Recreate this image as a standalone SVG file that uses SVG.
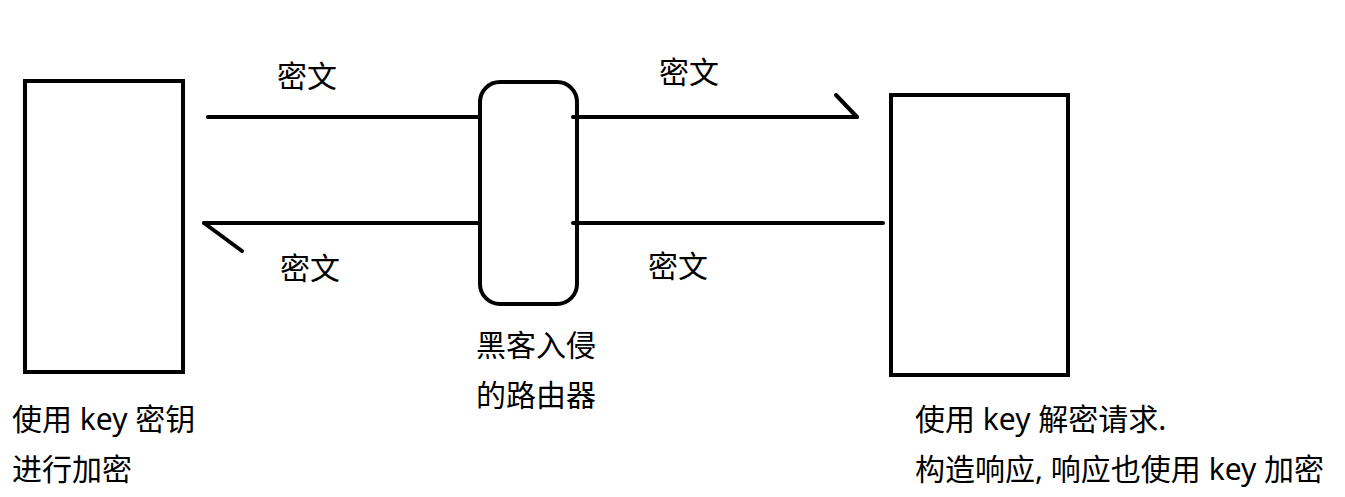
<svg xmlns="http://www.w3.org/2000/svg" width="1345" height="497" viewBox="0 0 1345 497">
<style>
.box{fill:none;stroke:#000;stroke-width:4}
.ln{fill:none;stroke:#000;stroke-width:4;stroke-linecap:round}
text{font-family:"Noto Sans","Noto Sans CJK SC",sans-serif;font-size:30px;fill:#000}
</style>
<rect width="1345" height="497" fill="#fff"/>
<g id="client">
<rect class="box" x="25" y="81" width="158" height="291"/>
<text x="12" y="430">使用 key 密钥</text>
<text x="12" y="480">进行加密</text>
</g>
<g id="server">
<rect class="box" x="891" y="95" width="177" height="280"/>
<text x="915" y="430">使用 key 解密请求.</text>
<text x="915" y="480">构造响应, 响应也使用 key 加密</text>
</g>
<g id="router">
<rect class="box" x="480" y="82" width="97" height="222" rx="20"/>
<text x="476" y="356">黑客入侵</text>
<text x="476" y="406">的路由器</text>
</g>
<g id="connectors">
<line class="ln" x1="208" y1="117" x2="478" y2="117"/>
<line class="ln" x1="573" y1="117" x2="857" y2="117"/>
<line class="ln" x1="836" y1="95" x2="857" y2="117"/>
<line class="ln" x1="204" y1="223" x2="478" y2="223"/>
<line class="ln" x1="573" y1="223" x2="883" y2="223"/>
<line class="ln" x1="204" y1="223" x2="242" y2="251"/>
<text x="277" y="87">密文</text>
<text x="659" y="83">密文</text>
<text x="280" y="279">密文</text>
<text x="648" y="277">密文</text>
</g>
</svg>
